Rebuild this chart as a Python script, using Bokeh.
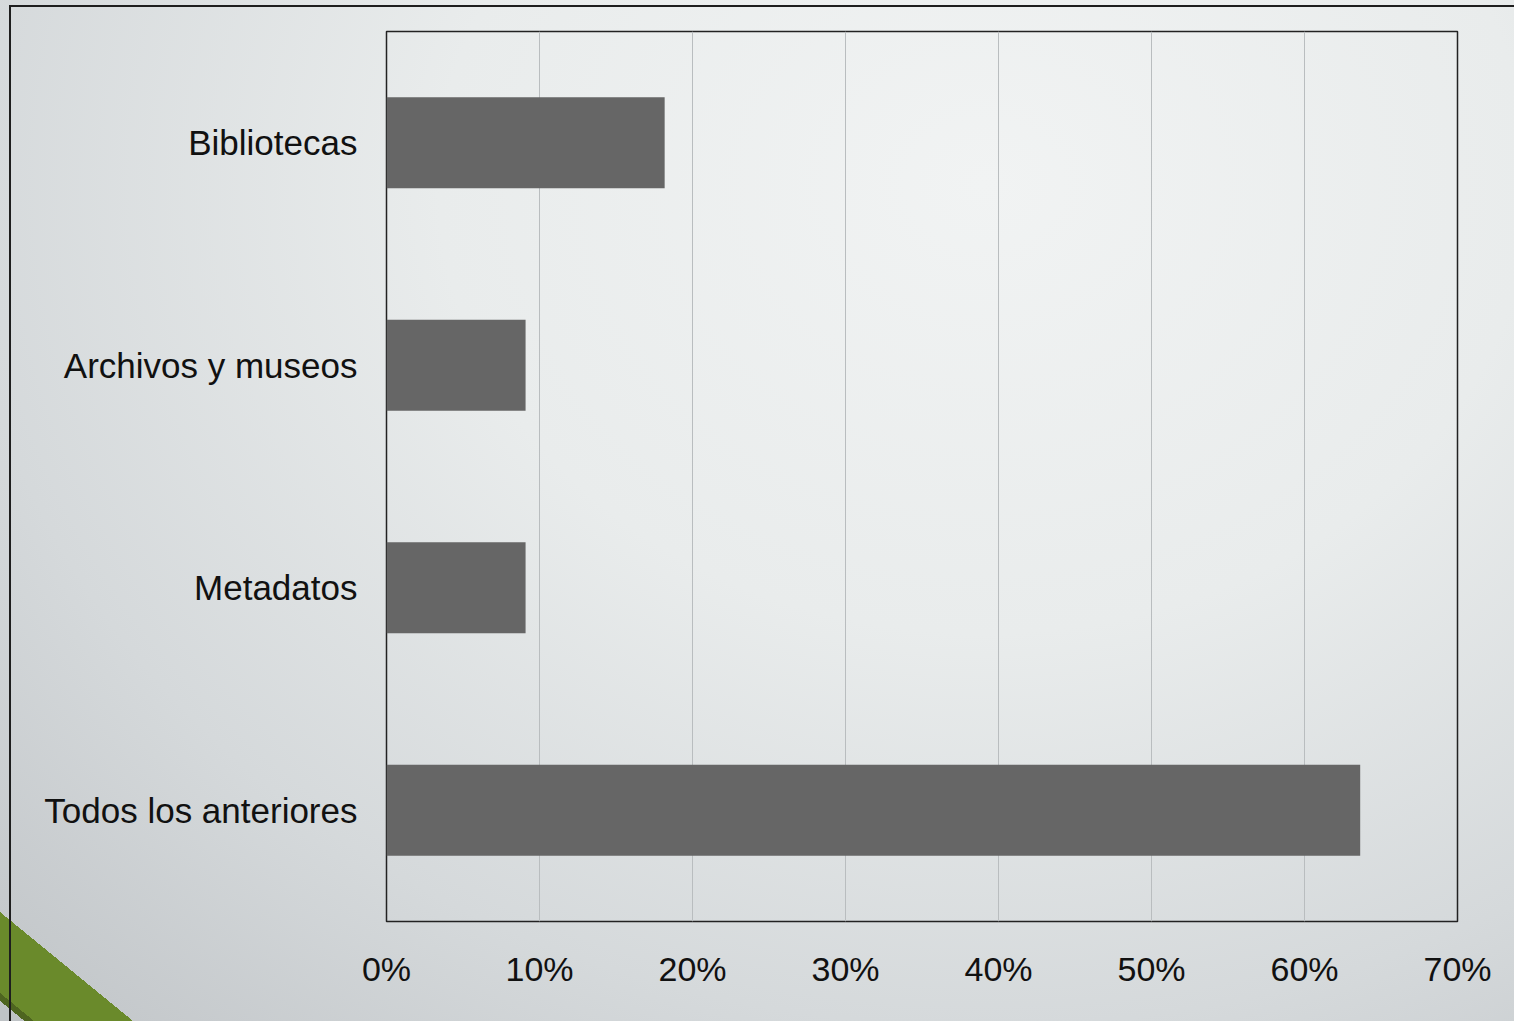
from bokeh.plotting import figure
from bokeh.models import Range1d, FactorRange, NumeralTickFormatter, FixedTicker
from bokeh.embed import file_html
from bokeh.resources import INLINE

# data (share of answers)
categories = ["Todos los anteriores", "Metadatos", "Archivos y museos", "Bibliotecas"]
values = [0.6364, 0.0909, 0.0909, 0.1818]
x_ticks = [0.0, 0.1, 0.2, 0.3, 0.4, 0.5, 0.6, 0.7]

W, H = 1514, 1021
p = figure(width=W, height=H, output_backend="svg", toolbar_location=None,
           y_range=FactorRange(factors=categories), x_range=Range1d(0, 0.7),
           min_border_left=386, min_border_right=57, min_border_top=31, min_border_bottom=100)

layers = [
    "linear-gradient(#1e1e1e, #1e1e1e) 10px 5px / 1504px 2px no-repeat",
    "linear-gradient(#1e1e1e, #1e1e1e) 9px 5px / 2px 1016px no-repeat",
    "linear-gradient(to top right, #bfc3c6 0 36%, #4e6520 36% 50%, transparent 50%) 0px 993px / 34px 28px no-repeat",
    "linear-gradient(to top right, #6a8a2b 50%, transparent 50%) 0px 912px / 133px 109px no-repeat",
    "radial-gradient(ellipse 90% 110% at 65% 18%, #f1f3f3 0%, #e9ecec 40%, #d5d9db 75%, #c3c7ca 100%)",
]
p.styles = {"background": ", ".join(layers)}
p.border_fill_alpha = 0
p.background_fill_alpha = 0
p.outline_line_color = "#222222"
p.outline_line_width = 1.5

p.hbar(y=categories, right=values, left=0, height=0.41, fill_color="#666666", line_color=None)

font = "Liberation Sans"
p.xaxis.ticker = FixedTicker(ticks=x_ticks)
p.xaxis.formatter = NumeralTickFormatter(format="0%")
for ax in (p.xaxis, p.yaxis):
    ax.axis_line_color = None
    ax.major_tick_line_color = None
    ax.minor_tick_line_color = None
    ax.major_tick_out = 0
    ax.major_tick_in = 0
    ax.major_label_text_font = font
    ax.major_label_text_color = "#111111"
p.xaxis.major_label_text_font_size = "34px"
p.yaxis.major_label_text_font_size = "35px"
p.xaxis.major_label_standoff = 28
p.yaxis.major_label_standoff = 29

p.xgrid.grid_line_color = "#b9bdbf"
p.xgrid.grid_line_width = 1
p.ygrid.grid_line_color = None

open("out.html", "w").write(file_html(p, INLINE))
